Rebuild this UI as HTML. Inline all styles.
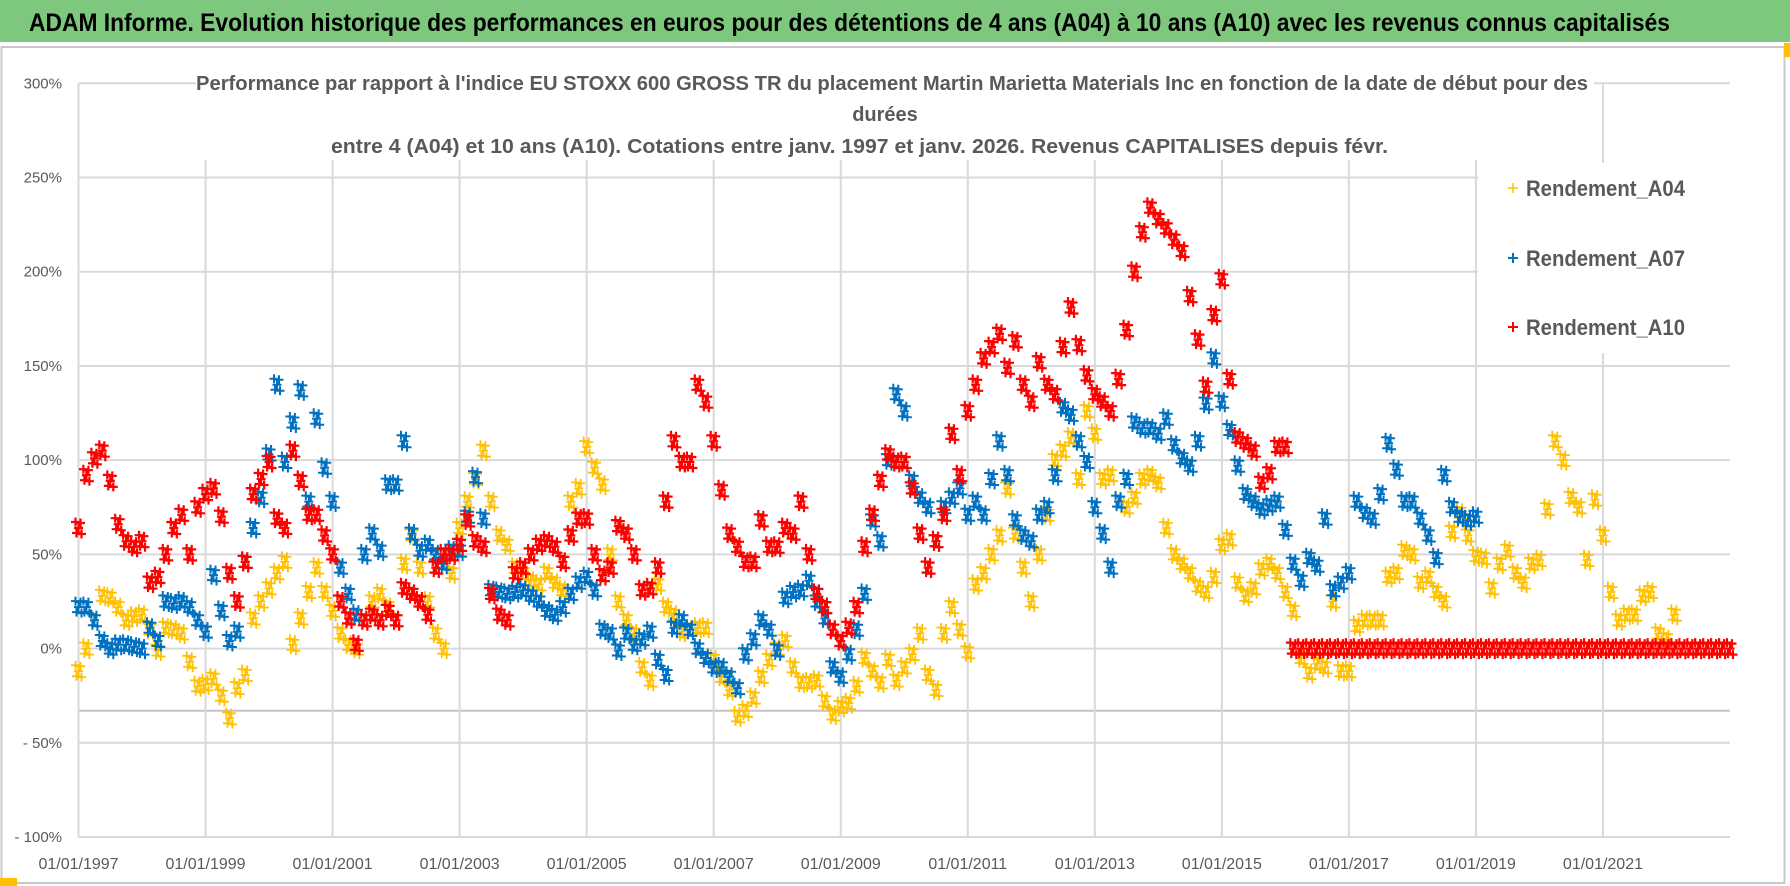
<!DOCTYPE html>
<html><head><meta charset="utf-8"><style>
html,body{margin:0;padding:0;background:#fff;}
svg{display:block;font-family:"Liberation Sans",sans-serif;}
</style></head><body>
<svg id="chart" width="1790" height="886" viewBox="0 0 1790 886" xmlns="http://www.w3.org/2000/svg">
<rect x="0" y="0" width="1790" height="886" fill="#fff"/>
<rect x="0" y="0" width="1790" height="42" fill="#7ec87e"/>
<text x="29" y="31" font-size="25" font-weight="bold" fill="#000" textLength="1641" lengthAdjust="spacingAndGlyphs">ADAM Informe. Evolution historique des performances en euros pour des détentions de 4 ans (A04) à 10 ans (A10) avec les revenus connus capitalisés</text>
<rect x="1.5" y="47" width="1783" height="836" fill="none" stroke="#c8c8c8" stroke-width="2"/>
<rect x="0" y="878" width="17" height="8" fill="#ffc000"/>
<rect x="1784" y="43" width="6" height="14" fill="#ffc000"/>
<g id="grid"></g>
<g id="yaxis"></g>
<g id="xaxis"></g>
<g id="series"></g>
<rect x="196" y="68" width="1398" height="92" fill="#fff"/>
<text x="196" y="90" font-size="20" font-weight="bold" fill="#595959" textLength="1392" lengthAdjust="spacingAndGlyphs">Performance par rapport à l'indice EU STOXX 600 GROSS TR  du placement Martin Marietta Materials Inc en fonction de la date de début pour des</text>
<text x="885" y="121" font-size="20" font-weight="bold" fill="#595959" text-anchor="middle">durées</text>
<text x="331" y="153" font-size="20" font-weight="bold" fill="#595959" textLength="1057" lengthAdjust="spacingAndGlyphs">entre 4 (A04) et 10 ans (A10). Cotations entre janv. 1997 et janv. 2026. Revenus CAPITALISES depuis févr.</text>
<rect x="1478" y="163" width="252" height="190" fill="#fff"/>
<g>
<g><path d="M1508 188h10M1513 183v10" stroke="#ffc000" stroke-width="1.5"/><text x="1526" y="196" font-size="22" font-weight="bold" fill="#595959" textLength="159" lengthAdjust="spacingAndGlyphs">Rendement_A04</text></g>
<g><path d="M1508 258h10M1513 253v10" stroke="#0070c0" stroke-width="2"/><text x="1526" y="266" font-size="22" font-weight="bold" fill="#595959" textLength="159" lengthAdjust="spacingAndGlyphs">Rendement_A07</text></g>
<g><path d="M1508 327h10M1513 322v10" stroke="#ff0000" stroke-width="2"/><text x="1526" y="335" font-size="22" font-weight="bold" fill="#595959" textLength="159" lengthAdjust="spacingAndGlyphs">Rendement_A10</text></g>
</g>
</svg>
<script>
const yTicks=[300,250,200,150,100,50,0,-50,-100];
const yTickLabels=["300%","250%","200%","150%","100%","50%","0%","- 50%","- 100%"];
const xTickYears=[1997,1999,2001,2003,2005,2007,2009,2011,2013,2015,2017,2019,2021];
const xTickLabels=["01/01/1997","01/01/1999","01/01/2001","01/01/2003","01/01/2005","01/01/2007","01/01/2009","01/01/2011","01/01/2013","01/01/2015","01/01/2017","01/01/2019","01/01/2021"];
const seriesStep=0.125;
const a04Start=1997.0;
const a04Values=[
-12,0,15,28,27,22,15,17,
18,10,-1,11,10,8,-7,-20,
-19,-16,-25,-37,-21,-14,16,25,
32,40,46,2,16,30,43,30,
20,8,2,0,15,25,29,22,
15,45,60,43,25,8,0,40,
64,78,90,105,78,60,55,43,
40,36,34,40,35,31,78,85,
107,96,87,50,25,15,8,-10,
-17,34,22,18,9,10,11,11,
-6,-15,-22,-36,-33,-26,-15,-6,
0,4,-10,-18,-18,-17,-28,-35,
-31,-29,-20,-5,-12,-18,-6,-17,
-10,-3,8,-14,-22,8,22,10,
-2,34,40,50,60,85,61,43,
25,50,71,100,105,112,90,126,
114,90,92,78,75,80,90,92,
88,64,50,45,40,33,30,38,
55,58,35,28,32,42,45,40,
30,20,-5,-13,-8,-10,25,-12,
-12,12,15,15,15,38,40,52,
50,35,38,30,25,62,72,60,
49,48,32,45,52,40,35,45,
47,74,110,100,80,75,47,79,
60,30,15,18,18,28,30,8,
5,18,0,0,0,0,0,0];
const a07Start=1997.0;
const a07Values=[
22,22,15,4,0,2,2,1,
0,11,4,25,24,25,22,15,
9,39,20,4,9,46,64,80,
103,140,99,120,137,78,122,96,
78,43,29,18,50,61,52,87,
87,110,61,52,55,50,45,52,
52,70,91,69,31,30,29,30,
31,28,25,20,18,22,29,35,
38,31,10,8,-1,8,2,5,
9,-6,-14,11,15,10,0,-5,
-10,-10,-15,-21,-3,5,15,10,
-1,27,30,31,36,25,16,-10,
-15,-3,10,29,68,57,100,135,
126,89,80,75,57,75,80,85,
71,78,71,90,110,92,68,60,
57,71,75,92,128,124,110,99,
75,61,43,78,90,120,117,117,
114,122,108,101,97,110,130,154,
131,116,97,82,78,74,76,78,
63,45,36,48,44,69,31,35,
40,78,72,69,82,109,95,78,
78,69,60,48,92,75,70,68,
70];
const a10Start=1997.0;
const a10Values=[
64,92,101,105,89,66,57,54,
57,35,38,50,64,71,50,75,
82,85,70,40,25,46,82,90,
99,69,64,105,89,71,71,60,
50,25,16,2,15,18,15,20,
15,32,29,25,18,43,50,50,
55,68,57,54,29,18,15,40,
43,50,55,57,54,46,60,69,
69,50,39,43,65,61,50,31,
32,43,78,110,99,99,140,131,
110,84,61,54,46,46,68,54,
54,64,61,78,50,29,22,10,
4,11,22,54,71,89,103,99,
99,85,61,43,57,71,114,92,
126,140,154,160,167,149,163,140,
131,152,140,135,160,181,161,145,
135,131,126,143,169,200,221,234,
228,223,217,211,187,164,139,177,
196,143,112,109,105,88,93,107,
107,0,0,0,0,0,0,0,
0,0,0,0,0,0,0,0,
0,0,0,0,0,0,0,0,
0,0,0,0,0,0,0,0,
0,0,0,0,0,0,0,0,
0,0,0,0,0,0,0,0,
0,0,0,0,0,0,0,0,
0];

const NS="http://www.w3.org/2000/svg";
const plotL=78.5, plotR=1730, plotT=83.3, plotB=837;
const xMin=1997, xMax=2023.0, yMin=-100, yMax=300;
function xScale(yr){return plotL+(yr-xMin)/(xMax-xMin)*(plotR-plotL);}
function yScale(v){return plotB-(v-yMin)/(yMax-yMin)*(plotB-plotT);}
function mk(tag,attrs,parent){const e=document.createElementNS(NS,tag);for(const k in attrs)e.setAttribute(k,attrs[k]);parent.appendChild(e);return e;}

const grid=document.getElementById('grid');
yTicks.forEach(function(t){
  const l=mk('line',{x1:plotL,x2:plotR,y1:yScale(t),y2:yScale(t),stroke:'#d9d9d9','stroke-width':2},grid);
  
  
});
const extra=mk('line',{x1:plotL,x2:plotR,y1:yScale(-33),y2:yScale(-33),stroke:'#c4c4c4','stroke-width':2},grid);


xTickYears.forEach(function(yr){
  const l=mk('line',{x1:xScale(yr),x2:xScale(yr),y1:plotT,y2:plotB,stroke:'#d9d9d9','stroke-width':2},grid);
  
  
});

const yaxis=document.getElementById('yaxis');
yTicks.forEach(function(t,i){
  const tx=mk('text',{x:62,y:yScale(t)+5,'font-size':15,fill:'#595959','text-anchor':'end'},yaxis);
  
  
  tx.textContent=yTickLabels[i];
});
const xaxis=document.getElementById('xaxis');
xTickYears.forEach(function(yr,i){
  const tx=mk('text',{x:xScale(yr),y:869,'font-size':16,fill:'#595959','text-anchor':'middle'},xaxis);
  
  
  tx.textContent=xTickLabels[i];
});

// marker glyph: a small cluster of "+" shapes around each data point (pure styling)
const glyphOffsets=[[0,0],[-3,-6],[3,6],[-2,5],[2,-5]];
const series=document.getElementById('series');
function drawSeries(vals,start,color,name,sw){
  const g=mk('g',{},series);
  
  
  let d='';
  vals.forEach(function(v,i){
    const cx=xScale(start+i*seriesStep), cy=yScale(v);
    glyphOffsets.forEach(function(o){
      const x=cx+o[0], y=cy+o[1];
      d+='M'+(x-4.5).toFixed(1)+' '+y.toFixed(1)+'h9M'+x.toFixed(1)+' '+(y-4.5).toFixed(1)+'v9';
    });
  });
  const p=mk('path',{d:d,stroke:color,'stroke-width':sw,fill:'none'},g);
  
  
}
drawSeries(a04Values,a04Start,'#ffc000','series-a04',1.8);
drawSeries(a07Values,a07Start,'#0070c0','series-a07',2);
drawSeries(a10Values,a10Start,'#ff0000','series-a10',2.2);
</script>
</body></html>
